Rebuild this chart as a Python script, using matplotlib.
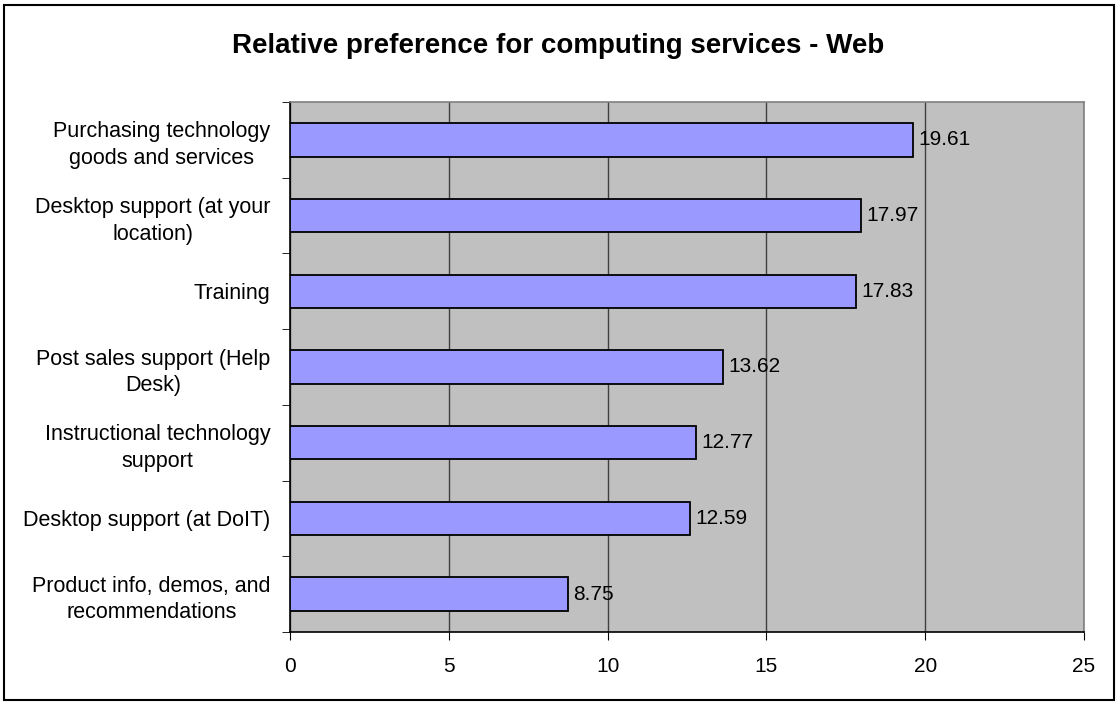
import matplotlib.pyplot as plt
from matplotlib.patches import Rectangle
import numpy as np

categories = ['Purchasing technology\ngoods and services',
              'Desktop support (at your\nlocation)',
              'Training',
              'Post sales support (Help\nDesk)',
              'Instructional technology\nsupport',
              'Desktop support (at DoIT)',
              'Product info, demos, and\nrecommendations']
values = [19.61, 17.97, 17.83, 13.62, 12.77, 12.59, 8.75]
x_ticks = [0, 5, 10, 15, 20, 25]

plt.rcParams['font.family'] = ['Liberation Sans', 'DejaVu Sans']

fig = plt.figure(figsize=(11.17, 7.04), dpi=100)
ax = fig.add_axes([290 / 1117, 1 - 632 / 704, (1084 - 290) / 1117, (632 - 102) / 704])

ax.set_facecolor('#C0C0C0')
pos = np.arange(len(categories))[::-1]
ax.barh(pos, values, height=0.44, color='#9999FF', edgecolor='black', linewidth=1.3, zorder=3)

for p, v in zip(pos, values):
    ax.text(v + 0.17, p, f'{v:.2f}', va='center', ha='left', fontsize=15, zorder=4)

ax.set_xlim(0, 25)
ax.set_ylim(-0.5, len(categories) - 0.5)
ax.set_xticks(x_ticks)
ax.set_xticklabels([str(t) for t in x_ticks], fontsize=15)
ax.set_yticks(pos)
ax.set_yticklabels(categories, fontsize=15.5, multialignment='center', linespacing=1.35)
ax.set_yticks(np.arange(-0.5, len(categories), 1), minor=True)
ax.tick_params(axis='y', which='major', length=0, pad=14)
ax.tick_params(axis='y', which='minor', length=6, direction='out', color='black')
ax.tick_params(axis='x', length=6, direction='out', pad=12)
ax.xaxis.grid(True, color='#404040', linewidth=1.0, zorder=1)
ax.set_axisbelow(True)

ax.spines['left'].set_color('black')
ax.spines['bottom'].set_color('black')
ax.spines['top'].set_color('#808080')
ax.spines['right'].set_color('#808080')
for s in ax.spines.values():
    s.set_linewidth(1.2)

fig.text(0.5, 1 - 46 / 704, 'Relative preference for computing services - Web',
         ha='center', va='center', fontsize=20, fontweight='bold')

fig.patches.append(Rectangle((4 / 1117, 4 / 704), 1110 / 1117, 695 / 704,
                             transform=fig.transFigure, fill=False,
                             edgecolor='black', linewidth=1.5))

fig.savefig('out.png', dpi=100)
